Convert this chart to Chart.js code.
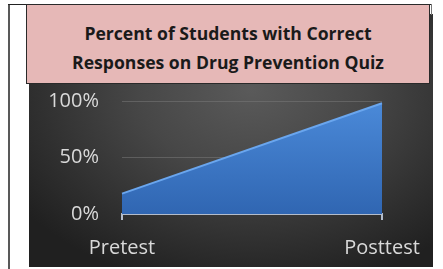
<!DOCTYPE html>
<html>
<head>
<meta charset="utf-8">
<script src="https://cdn.jsdelivr.net/npm/chart.js@4.4.0/dist/chart.umd.min.js"></script>
<style>
  html, body { margin:0; padding:0; }
  body { width:443px; height:269px; background:#fff; position:relative; overflow:hidden; font-family: "Open Sans", sans-serif; }
  #leftLine { position:absolute; left:8px; top:4px; width:2px; height:265px; background:#595959; }
  #topLine { position:absolute; left:8px; top:4px; width:424px; height:1px; background:#222; }
  #rightTick { position:absolute; left:431px; top:4px; width:1px; height:11px; background:#777; }
  #panel { position:absolute; left:29px; top:14px; width:404px; height:253px;
    background: radial-gradient(ellipse 70% 80% at 55% 30%, #5a5a5a 0%, #474747 40%, #303030 75%, #202020 100%); }
  #title { position:absolute; left:26px; top:4px; width:402px; height:78px; background:#e6b8b7;
    border:1px solid #2a2a2a; text-align:center; color:#1a1a1a;
    font-family: "Open Sans", sans-serif; font-weight:700; font-size:17.6px; line-height:29px; }
  #title .t { position:absolute; left:0; right:0; top:14px; white-space:nowrap; }
  #c { position:absolute; left:0; top:0; }
</style>
</head>
<body>
<div id="leftLine"></div>
<div id="panel"></div>
<div id="topLine"></div>
<div id="rightTick"></div>
<div id="title"><div class="t">Percent of Students with Correct<br>Responses on Drug Prevention Quiz</div></div>
<canvas id="c" width="443" height="269"></canvas>
<script>
const categories = ['Pretest', 'Posttest'];
const percentCorrect = [18, 98];
const yTickValues = [0, 50, 100];

const ctx = document.getElementById('c').getContext('2d');

const fillGrad = (context) => {
  const chart = context.chart;
  const area = chart.chartArea;
  if (!area) return '#3b73c2';
  const g = chart.ctx.createLinearGradient(0, area.top, 0, area.bottom);
  g.addColorStop(0, '#4b8ad9');
  g.addColorStop(1, '#3066b2');
  return g;
};

new Chart(ctx, {
  type: 'line',
  data: {
    labels: categories,
    datasets: [{
      data: percentCorrect,
      fill: 'origin',
      backgroundColor: fillGrad,
      borderColor: '#6aa6ee',
      borderWidth: 2,
      pointRadius: 0,
      tension: 0
    }]
  },
  options: {
    responsive: false,
    animation: false,
    devicePixelRatio: 1,
    layout: { padding: { left: 0, right: 61, top: 101, bottom: 0 } },
    plugins: { legend: { display: false }, tooltip: { enabled: false }, title: { display: false } },
    scales: {
      x: {
        offset: false,
        border: { display: true, color: '#b3bccb', width: 2 },
        grid: { drawOnChartArea: false, drawTicks: true, tickLength: 6, color: '#b3bccb', lineWidth: 2 },
        ticks: { color: '#d9d9d9', font: { family: 'Open Sans', size: 20 }, padding: 16, maxRotation: 0 },
        afterFit: (s) => { s.height = 55; }
      },
      y: {
        min: 0, max: 100,
        afterBuildTicks: (s) => { s.ticks = yTickValues.map(v => ({ value: v })); },
        border: { display: false },
        grid: { drawTicks: false, color: (c) => c.tick && c.tick.value === 0 ? 'rgba(0,0,0,0)' : 'rgba(120,120,120,0.55)', lineWidth: 1 },
        ticks: { color: '#d9d9d9', font: { family: 'Open Sans', size: 20 }, padding: 23, callback: (v) => v + '%' },
        afterFit: (s) => { s.width = 122; }
      }
    }
  }
});
</script>
</body>
</html>
